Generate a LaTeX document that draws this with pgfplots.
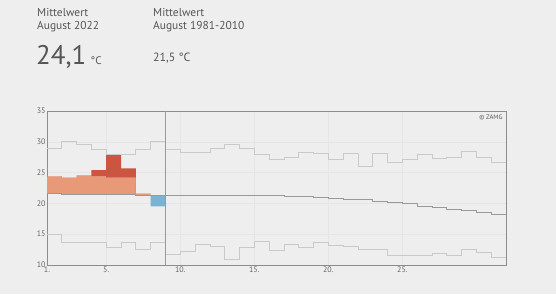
\documentclass[border=0pt]{standalone}
\usepackage{pgfplots}
\pgfplotsset{compat=1.18}
\usepackage{pgfplotstable}
\usepgfplotslibrary{fillbetween}
\usepackage{fontspec}
\setmainfont{PT Sans}
\definecolor{bg}{HTML}{EEEEEE}
\definecolor{txt}{HTML}{555555}
\definecolor{lightred}{HTML}{E89A78}
\definecolor{darkred}{HTML}{CC5542}
\definecolor{blue}{HTML}{7BB3D1}
\definecolor{extreme}{HTML}{C9C9C9}
\definecolor{normal}{HTML}{999999}
\pagecolor{bg}

% day, max, min, normal (step starts at day)
\pgfplotstableread{
day max min norm
1 28.9 15.0 21.6
2 30.0 13.7 21.55
3 29.6 13.7 21.55
4 28.8 13.7 21.5
5 27.9 12.9 21.5
6 27.9 13.7 21.5
7 28.8 12.6 21.3
8 30.0 13.7 21.3
9 28.8 11.7 21.3
10 28.3 12.2 21.3
11 28.3 13.4 21.3
12 28.9 13.1 21.3
13 29.6 10.9 21.3
14 28.9 12.8 21.3
15 28.0 13.9 21.3
16 27.2 12.4 21.3
17 27.4 13.4 21.15
18 28.3 12.8 21.15
19 28.1 13.7 21.0
20 27.2 13.25 20.8
21 28.1 13.1 20.7
22 26.0 12.6 20.6
23 28.1 12.6 20.4
24 26.7 11.6 20.1
25 27.2 11.6 20.0
26 28.0 11.6 19.6
27 27.3 11.9 19.4
28 27.5 11.6 19.1
29 28.5 12.55 18.9
30 27.5 12.1 18.55
31 26.7 11.2 18.2
32 26.7 11.2 18.2
}\clim

% 2022: normal, light top, dark top
\pgfplotstableread{
day norm light dark
1 21.6 24.4 24.4
2 21.55 24.2 24.2
3 21.55 24.55 24.55
4 21.5 24.4 25.4
5 21.5 24.2 28.0
6 21.5 24.2 25.7
7 21.3 21.6 21.6
8 21.3 21.3 21.3
9 21.3 21.3 21.3
}\warm

\pgfplotstableread{
day norm cold
8 21.3 19.5
9 21.3 19.5
}\cold

\begin{document}
\begin{tikzpicture}[x=1bp,y=1bp]
\path (0,0) rectangle (556,294);
\begin{axis}[
  at={(47bp,29bp)}, anchor=south west,
  scale only axis, width=459bp, height=154bp,
  xmin=1, xmax=32, ymin=10, ymax=35,
  xtick={1,5,10,15,20,25}, xticklabels={1.,5.,10.,15.,20.,25.},
  ytick={10,15,20,25,30,35},
  grid=major, major grid style={draw=white!80!gray, line width=0.6pt},
  tick style={draw=none},
  axis line style={draw=gray!90, line width=0.7pt},
  /pgf/number format/assume math mode=true,
  ticklabel style={font=\fontsize{8}{9}\selectfont, text=txt!90},
  xticklabel style={yshift=2pt},
  yticklabel style={xshift=2pt},
  clip=false,
]
\addplot[const plot, draw=extreme, line width=0.7pt] table[x=day,y=max] {\clim};
\addplot[const plot, draw=extreme, line width=0.7pt] table[x=day,y=min] {\clim};

\addplot[const plot, draw=none, name path=wn, forget plot] table[x=day,y=norm] {\warm};
\addplot[const plot, draw=none, name path=wl, forget plot] table[x=day,y=light] {\warm};
\addplot[const plot, draw=none, name path=wd, forget plot] table[x=day,y=dark] {\warm};
\addplot[lightred] fill between[of=wl and wn];
\addplot[darkred] fill between[of=wd and wl];

\addplot[const plot, draw=none, name path=cn, forget plot] table[x=day,y=norm] {\cold};
\addplot[const plot, draw=none, name path=cc, forget plot] table[x=day,y=cold] {\cold};
\addplot[blue] fill between[of=cn and cc];

\addplot[const plot, draw=normal, line width=0.7pt] table[x=day,y=norm] {\clim};
\addplot[draw=normal, line width=0.7pt] coordinates {(9,10) (9,35)};

\node[anchor=north east, font=\fontsize{6.5}{7}\selectfont, text=txt] at (rel axis cs:1,1) {\textcopyright{} ZAMG};
\end{axis}

\begin{scope}[text=txt]
\node[anchor=base west, inner sep=0, font=\fontsize{11.5}{12}\selectfont] at (37,278) {Mittelwert};
\node[anchor=base west, inner sep=0, font=\fontsize{11.5}{12}\selectfont] at (37,265) {August 2022};
\node[anchor=base west, inner sep=0, font=\fontsize{27}{28}\selectfont] (big) at (36,230) {24,1};
\node[anchor=base west, inner sep=0, font=\fontsize{11}{12}\selectfont] at ([xshift=4bp]big.base east) {°C};
\node[anchor=base west, inner sep=0, font=\fontsize{11.5}{12}\selectfont] at (153,278) {Mittelwert};
\node[anchor=base west, inner sep=0, font=\fontsize{11.5}{12}\selectfont] at (153,265) {August 1981-2010};
\node[anchor=base west, inner sep=0, font=\fontsize{12}{13}\selectfont] at (153,233) {21,5 °C};
\end{scope}
\end{tikzpicture}
\end{document}
